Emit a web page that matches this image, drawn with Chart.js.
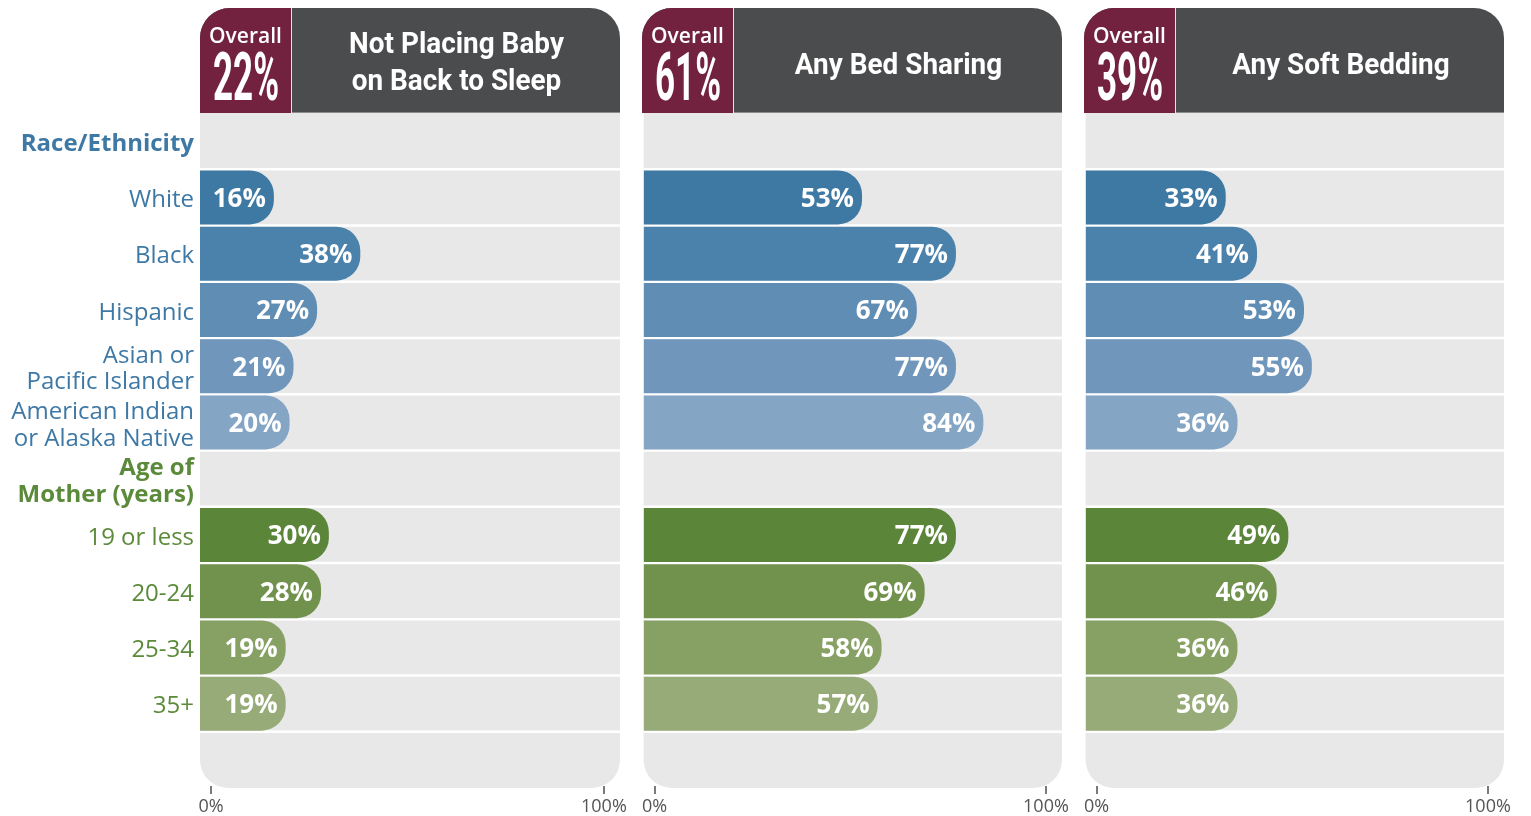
<!DOCTYPE html>
<html>
<head>
<meta charset="utf-8">
<script src="https://cdn.jsdelivr.net/npm/chart.js@4.4.1/dist/chart.umd.min.js"></script>
<style>
html, body { margin: 0; padding: 0; background: #fff; }
#wrap { position: relative; width: 1531px; height: 816px; overflow: hidden; font-family: 'Open Sans', sans-serif; }
canvas { position: absolute; top: 0; }
.head { position: absolute; top: 8px; width: 420px; height: 105px; background: #4b4c4e;
        border-radius: 30px 30px 0 0; overflow: hidden; box-shadow: inset 0 -1px 0 #8c8c8c; }
.ov { position: absolute; left: 0; top: 0; width: 91px; height: 105px; background: #72223f;
      border-right: 1.5px solid #e6e6e6; }
.ovl { position: absolute; left: 0; right: 0; top: 17px; text-align: center; color: #fff;
       font: 600 21px/1 'Open Sans', sans-serif; }
.ovn { position: absolute; left: 50%; top: 37px; color: #fff; white-space: nowrap;
       font: bold 66px/1 Roboto, sans-serif; transform: translateX(-50%) scaleX(0.53); }
.ttl { position: absolute; left: 93px; right: 0; text-align: center; color: #fff;
       font: bold 30px/37px Roboto, sans-serif; white-space: nowrap; }
.ttl span { display: inline-block; transform: scaleX(0.93); }
</style>
</head>
<body>
<div id="wrap"></div>
<script>
/* ── DATOS ── */
var categories = ['Race/Ethnicity', 'White', 'Black', 'Hispanic', ['Asian or', 'Pacific Islander'],
                  ['American Indian', 'or Alaska Native'], ['Age of', 'Mother (years)'],
                  '19 or less', '20-24', '25-34', '35+', ''];
/* null = fila de encabezado o fila vacía, sin barra */
var notBackToSleep = [null, 16, 38, 27, 21, 20, null, 30, 28, 19, 19, null];
var bedSharing     = [null, 53, 77, 67, 77, 84, null, 77, 69, 58, 57, null];
var softBedding    = [null, 33, 41, 53, 55, 36, null, 49, 46, 36, 36, null];
var overall = [22, 61, 39];
var titles = [['Not Placing Baby', 'on Back to Sleep'], ['Any Bed Sharing'], ['Any Soft Bedding']];
var tickValues = [0, 100];

/* ── ESTILOS ── */
var barColors = [null, '#3e79a3', '#4b82ac', '#5f8db4', '#7097bb', '#85a5c5', null,
                 '#5b8539', '#71924c', '#87a165', '#97ab78', null];
var X_MIN = -2.8, X_MAX = 104.1;
var panelLeft = [200, 642, 1084];

var wrap = document.getElementById('wrap');

/* Fondo gris del panel con esquinas inferiores redondeadas y líneas blancas entre filas */
var panelBg = {
    id: 'panelBg',
    beforeDatasetsDraw: function (chart) {
        var a = chart.chartArea, ctx = chart.ctx, y = chart.scales.y;
        ctx.save();
        ctx.fillStyle = '#e8e8e8';
        ctx.beginPath();
        ctx.roundRect(a.left, a.top, a.right - a.left, a.bottom - a.top, [0, 0, 28, 28]);
        ctx.fill();
        ctx.strokeStyle = '#ffffff';
        ctx.lineWidth = 2.5;
        for (var i = 1; i < categories.length; i++) {
            var yy = (y.getPixelForValue(i - 1) + y.getPixelForValue(i)) / 2;
            ctx.beginPath();
            ctx.moveTo(a.left, yy);
            ctx.lineTo(a.right, yy);
            ctx.stroke();
        }
        ctx.restore();
    }
};

/* Etiquetas blancas con el porcentaje dentro de cada barra + marcas del eje x */
var valueLabels = {
    id: 'valueLabels',
    afterDatasetsDraw: function (chart) {
        var ctx = chart.ctx;
        var values = chart.data.datasets[0].data;
        var meta = chart.getDatasetMeta(0);
        ctx.save();
        ctx.fillStyle = '#ffffff';
        ctx.font = 'bold 26px "Open Sans", sans-serif';
        ctx.textAlign = 'right';
        ctx.textBaseline = 'middle';
        meta.data.forEach(function (bar, i) {
            if (values[i] === null) return;
            ctx.fillText(values[i] + '%', bar.x - 8, bar.y + 2);
        });
        /* marcas cortas grises en 0% y 100% */
        var xs = chart.scales.x, b = chart.chartArea.bottom;
        ctx.strokeStyle = '#7a7a7a';
        ctx.lineWidth = 2;
        xs.ticks.forEach(function (t) {
            var px = Math.round(xs.getPixelForValue(t.value));
            ctx.beginPath();
            ctx.moveTo(px, b - 2);
            ctx.lineTo(px, b + 6);
            ctx.stroke();
        });
        ctx.restore();
    }
};

/* Encabezado oscuro con el recuadro "Overall" (texto condensado con scaleX) */
function crearEncabezado(p) {
    var h = document.createElement('div');
    h.className = 'head';
    h.style.left = panelLeft[p] + 'px';
    var ov = document.createElement('div');
    ov.className = 'ov';
    ov.innerHTML = '<div class="ovl">Overall</div><div class="ovn">' + overall[p] + '%</div>';
    h.appendChild(ov);
    var t = document.createElement('div');
    t.className = 'ttl';
    t.style.top = (titles[p].length > 1 ? 16 : 37) + 'px';
    t.innerHTML = '<span>' + titles[p].join('<br>') + '</span>';
    h.appendChild(t);
    wrap.appendChild(h);
}

function crearPanel(p, values) {
    var conEjes = p === 0;
    var canvas = document.createElement('canvas');
    var left = conEjes ? 0 : panelLeft[p];
    var width = conEjes ? 640 : 440;
    canvas.width = width;
    canvas.height = 816;
    canvas.style.left = left + 'px';
    canvas.style.width = width + 'px';
    canvas.style.height = '816px';
    wrap.appendChild(canvas);

    new Chart(canvas, {
        type: 'bar',
        data: {
            labels: categories,
            datasets: [{
                data: values,
                base: X_MIN,
                backgroundColor: barColors,
                borderRadius: 24,
                barPercentage: 1,
                categoryPercentage: 0.96
            }]
        },
        options: {
            indexAxis: 'y',
            responsive: false,
            animation: false,
            layout: { padding: { top: 113, right: 20, left: 0, bottom: 0 } },
            plugins: { legend: { display: false }, tooltip: { enabled: false } },
            scales: {
                x: {
                    min: X_MIN,
                    max: X_MAX,
                    afterBuildTicks: function (s) {
                        s.ticks = tickValues.map(function (v) { return { value: v }; });
                    },
                    afterFit: function (s) { s.height = 28; },
                    ticks: {
                        callback: function (v) { return v + '%'; },
                        color: '#555',
                        font: { family: 'Open Sans', size: 18 },
                        padding: 0,
                        maxRotation: 0
                    },
                    grid: { drawOnChartArea: false, drawTicks: true, tickLength: 8, color: 'rgba(0,0,0,0)' },
                    border: { display: false }
                },
                y: {
                    display: conEjes,
                    afterFit: function (s) { if (conEjes) s.width = 200; },
                    ticks: {
                        padding: 6,
                        labelOffset: 3,
                        autoSkip: false,
                        color: function (c) { return c.index < 6 ? '#3e78a5' : '#5b8a3a'; },
                        font: function (c) {
                            return {
                                family: 'Open Sans',
                                size: 24,
                                weight: (c.index === 0 || c.index === 6) ? 'bold' : 'normal',
                                lineHeight: 1.12
                            };
                        }
                    },
                    grid: { display: false, drawTicks: false },
                    border: { display: false }
                }
            }
        },
        plugins: [panelBg, valueLabels]
    });
    crearEncabezado(p);
}

crearPanel(0, notBackToSleep);
crearPanel(1, bedSharing);
crearPanel(2, softBedding);
</script>
</body>
</html>
